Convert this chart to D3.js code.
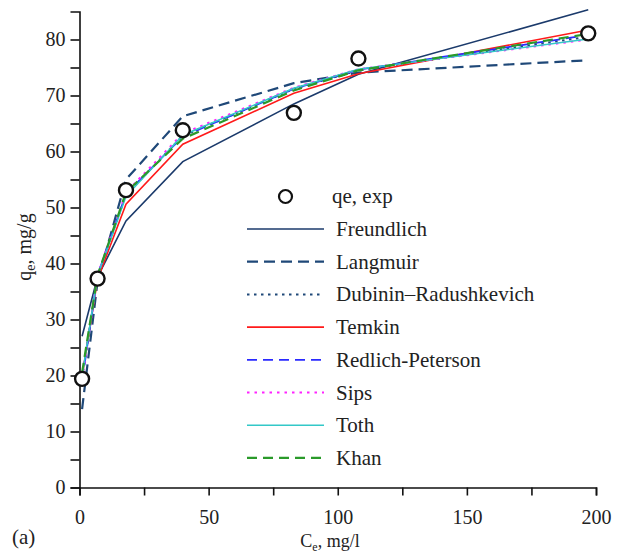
<!DOCTYPE html>
<html>
<head>
<meta charset="utf-8">
<script src="https://cdn.jsdelivr.net/npm/d3@7"></script>
<style>
  body { margin: 0; background: #fff; }
  svg text { font-family: "Liberation Serif", "Times New Roman", "DejaVu Serif", serif !important; }
</style>
</head>
<body>
<svg width="619" height="557"></svg>
<script>
// equilibrium concentrations, mg/l
var ce = [1, 7, 18, 40, 83, 108, 197];
// experimental uptake, mg/g
var qeExp = [19.4, 37.3, 53.1, 63.8, 66.9, 76.6, 81.1];

// model fits at the same concentrations
var freundlich = [27.0, 37.6, 47.6, 58.2, 68.5, 73.8, 85.3];
var langmuir   = [14.0, 36.8, 55.0, 66.3, 72.2, 74.1, 76.3];
var dubinin    = [19.5, 37.8, 52.3, 62.8, 71.2, 74.5, 80.5];
var temkin     = [19.8, 37.2, 50.6, 61.3, 70.4, 73.9, 81.7];
var redlich    = [19.0, 37.9, 52.4, 62.7, 71.2, 74.6, 80.8];
var sips       = [19.5, 37.9, 52.7, 63.2, 71.4, 74.7, 80.0];
var toth       = [19.8, 37.8, 52.0, 62.9, 71.3, 74.7, 80.1];
var khan       = [20.5, 37.9, 52.7, 62.3, 70.9, 74.5, 81.0];

var xTicks = [0, 25, 50, 75, 100, 125, 150, 175, 200];
var xLabels = [0, 50, 100, 150, 200];
var yTicks = d3.range(0, 85, 5);
var yLabels = [0, 10, 20, 30, 40, 50, 60, 70, 80];

var series = [
  {name: "Freundlich", values: freundlich, color: "#1b3a6b", dash: null, width: 1.6},
  {name: "Langmuir", values: langmuir, color: "#1f4878", dash: "11,6", width: 2.2},
  {name: "Dubinin\u2013Radushkevich", values: dubinin, color: "#1f4878", dash: "2.5,4.5", width: 2},
  {name: "Temkin", values: temkin, color: "#ff1a1a", dash: null, width: 1.6},
  {name: "Redlich-Peterson", values: redlich, color: "#2a2aff", dash: "10,6", width: 1.8},
  {name: "Sips", values: sips, color: "#ff22ff", dash: "2.5,5", width: 2},
  {name: "Toth", values: toth, color: "#33c8c8", dash: null, width: 1.6},
  {name: "Khan", values: khan, color: "#2a9a2a", dash: "10,6", width: 2.2}
];

var svg = d3.select("svg");

var x = d3.scaleLinear().domain([0, 200]).range([79.5, 596]);
var y = d3.scaleLinear().domain([0, 85]).range([487.5, 11.5]);

// axes
var xAxis = svg.append("g")
    .attr("transform", "translate(0," + y(0) + ")")
    .call(d3.axisBottom(x).tickValues(xTicks).tickSize(8).tickFormat(function (d) {
      return xLabels.indexOf(d) >= 0 ? d : "";
    }));

var yAxis = svg.append("g")
    .attr("transform", "translate(" + x(0) + ",0)")
    .call(d3.axisLeft(y).tickValues(yTicks).tickSize(9).tickFormat(function (d) {
      return yLabels.indexOf(d) >= 0 ? d : "";
    }));

[xAxis, yAxis].forEach(function (a) {
  a.select(".domain").attr("stroke", "#111").attr("stroke-width", 1.6);
  a.selectAll(".tick line").attr("stroke", "#111").attr("stroke-width", 1.6);
  a.selectAll(".tick text")
    .attr("font-size", 20)
    .attr("fill", "#222");
});
xAxis.selectAll(".tick text").attr("dy", "1.25em");
yAxis.selectAll(".tick text").attr("x", -14);

// model lines
var line = d3.line()
    .x(function (d, i) { return x(ce[i]); })
    .y(function (d) { return y(d); });

svg.append("g").selectAll("path")
  .data(series)
  .enter().append("path")
    .attr("d", function (d) { return line(d.values); })
    .attr("fill", "none")
    .attr("stroke", function (d) { return d.color; })
    .attr("stroke-width", function (d) { return d.width; })
    .attr("stroke-dasharray", function (d) { return d.dash; });

// experimental points
svg.append("g").selectAll("circle")
  .data(qeExp)
  .enter().append("circle")
    .attr("cx", function (d, i) { return x(ce[i]); })
    .attr("cy", function (d) { return y(d); })
    .attr("r", 7)
    .attr("fill", "#fff")
    .attr("stroke", "#111")
    .attr("stroke-width", 2.4);

// legend
var legend = svg.append("g");
legend.append("circle")
    .attr("cx", 285.5).attr("cy", 196.5).attr("r", 6.5)
    .attr("fill", "#fff").attr("stroke", "#111").attr("stroke-width", 2.2);
legend.append("text")
    .attr("x", 332).attr("y", 203)
    .attr("font-size", 21).attr("fill", "#222")
    .text("qe, exp");

var rows = legend.selectAll("g.row")
  .data(series)
  .enter().append("g")
    .attr("class", "row")
    .attr("transform", function (d, i) { return "translate(0," + (229 + i * 32.7) + ")"; });

rows.append("line")
    .attr("x1", 247).attr("x2", 324)
    .attr("stroke", function (d) { return d.color; })
    .attr("stroke-width", function (d) { return d.width; })
    .attr("stroke-dasharray", function (d) { return d.dash; });

rows.append("text")
    .attr("x", 336).attr("y", 7)
    .attr("font-size", 21).attr("fill", "#222")
    .text(function (d) { return d.name; });

// axis titles
var yt = svg.append("text")
    .attr("transform", "translate(31,247) rotate(-90)")
    .attr("text-anchor", "middle")
    .attr("font-size", 20).attr("fill", "#222");
yt.append("tspan").text("q");
yt.append("tspan").attr("font-size", 14).attr("dy", 4).text("e");
yt.append("tspan").attr("dy", -4).text(", mg/g");

var xt = svg.append("text")
    .attr("x", 330).attr("y", 547)
    .attr("text-anchor", "middle")
    .attr("font-size", 18).attr("fill", "#222");
xt.append("tspan").text("C");
xt.append("tspan").attr("font-size", 12).attr("dy", 4).text("e");
xt.append("tspan").attr("dy", -4).text(", mg/l");

svg.append("text")
    .attr("x", 12).attr("y", 544)
    .attr("font-size", 21).attr("fill", "#222")
    .text("(a)");
</script>
</body>
</html>
